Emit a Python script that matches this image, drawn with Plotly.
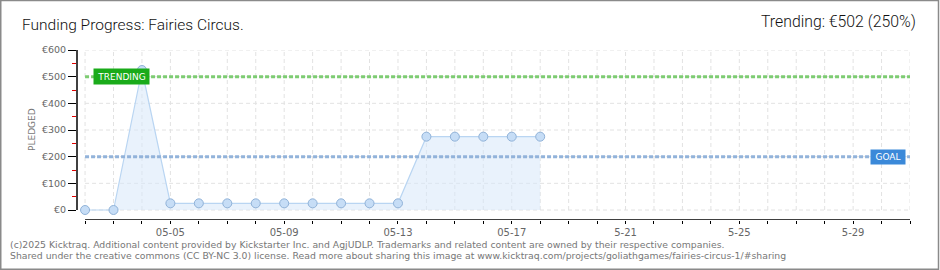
import plotly.graph_objects as go
import pandas as pd

# ---- data ----
dates = pd.date_range("2025-05-02", "2025-05-18", freq="D")
pledged = [0, 0, 525, 25, 25, 25, 25, 25, 25, 25, 25, 25, 275, 275, 275, 275, 275]
axis_days = pd.date_range("2025-05-02", "2025-05-31", freq="D")
label_days = {"2025-05-05": "05-05", "2025-05-09": "05-09", "2025-05-13": "05-13",
              "2025-05-17": "05-17", "2025-05-21": "5-21", "2025-05-25": "5-25",
              "2025-05-29": "5-29"}
y_ticks = [0, 100, 200, 300, 400, 500, 600]
y_ticktext = ["€0", "€100", "€200", "€300", "€400", "€500", "€600"]
goal = 200
trending = 500
title_left = "Funding Progress: Fairies Circus."
title_right = "Trending: €502 (250%)"
footer1 = "(c)2025 Kicktraq. Additional content provided by Kickstarter Inc. and AgjUDLP. Trademarks and related content are owned by their respective companies."
footer2 = "Shared under the creative commons (CC BY-NC 3.0) license. Read more about sharing this image at www.kicktraq.com/projects/goliathgames/fairies-circus-1/#sharing"

W, H = 940, 270
ML, MR, MT, MB = 77, 30, 50, 50
PW = W - ML - MR
PH = H - MT - MB

x0 = axis_days[0] - pd.Timedelta(hours=6.8)
x1 = axis_days[-1]


def px_x(p):
    return (p - ML) / PW


def px_y(p):
    return (H - MB - p) / PH


fig = go.Figure()

shapes = []
grid_col = "#e2e2e2"
for d in axis_days:
    shapes.append(dict(type="line", xref="x", yref="y", x0=d, x1=d, y0=0, y1=600,
                       line=dict(color=grid_col, width=1, dash="4px,3px"), layer="below"))
for v in y_ticks:
    shapes.append(dict(type="line", xref="x", yref="y", x0=axis_days[0], x1=axis_days[-1],
                       y0=v, y1=v, line=dict(color=grid_col, width=1, dash="4px,3px"), layer="below"))
# target lines
shapes.append(dict(type="line", xref="x", yref="y", x0=axis_days[0], x1=axis_days[-1],
                   y0=trending, y1=trending, line=dict(color="#7dcc72", width=3, dash="4px,2px")))
shapes.append(dict(type="line", xref="x", yref="y", x0=axis_days[0], x1=axis_days[-1],
                   y0=goal, y1=goal, line=dict(color="#92b3da", width=3, dash="4px,2px")))
# y axis line
shapes.append(dict(type="line", xref="paper", yref="y", x0=0, x1=0, y0=0, y1=600,
                   line=dict(color="#000", width=1.5)))
# x axis line
shapes.append(dict(type="line", xref="x", yref="y", x0=axis_days[0], x1=axis_days[-1],
                   y0=-37.5, y1=-37.5, line=dict(color="#000", width=1.5)))
# outer border
shapes.append(dict(type="rect", xref="paper", yref="paper",
                   x0=px_x(0.75), x1=px_x(938.5), y0=px_y(269.2), y1=px_y(0.6),
                   line=dict(color="#8a8a8a", width=1.5)))

fig.add_trace(go.Scatter(
    x=dates, y=pledged, mode="lines+markers",
    line=dict(color="#b9d5f2", width=1.2),
    fill="tozeroy", fillcolor="rgba(215,232,250,0.55)",
    marker=dict(size=9, color="#c6ddf6", line=dict(color="#90b2d8", width=1)),
    hoverinfo="skip", showlegend=False, cliponaxis=False,
))

title_font_l = dict(family="Roboto, Liberation Sans Narrow", size=15.5, color="#111", weight=300)
title_font_r = dict(family="Roboto, Liberation Sans Narrow", size=15.8, color="#111", weight=300)
small = dict(family="DejaVu Sans", size=9.3, color="#777")

annotations = [
    dict(text=title_left, xref="paper", yref="paper", x=px_x(20), y=px_y(25),
         xanchor="left", yanchor="middle", showarrow=False, font=title_font_l),
    dict(text=title_right, xref="paper", yref="paper", x=px_x(918), y=px_y(22),
         xanchor="right", yanchor="middle", showarrow=False, font=title_font_r),
    dict(text="PLEDGED", xref="paper", yref="paper", x=px_x(32), y=px_y(130),
         textangle=-90, showarrow=False, xanchor="center", yanchor="middle",
         font=dict(family="DejaVu Sans", size=9, color="#777")),
    dict(text="TRENDING", xref="paper", yref="y", x=px_x(121), y=trending,
         xanchor="center", yanchor="middle", width=51, height=11,
         showarrow=False, bgcolor="#1aab1a", borderpad=2,
         font=dict(family="DejaVu Sans", size=9, color="#fff")),
    dict(text="GOAL", xref="paper", yref="y", x=px_x(888), y=goal,
         xanchor="center", yanchor="middle", width=30, height=10,
         showarrow=False, bgcolor="#3b89d9", borderpad=2,
         font=dict(family="DejaVu Sans", size=9, color="#fff")),
    dict(text=footer1, xref="paper", yref="paper", x=px_x(8), y=px_y(244),
         xanchor="left", yanchor="middle", showarrow=False, font=small),
    dict(text=footer2, xref="paper", yref="paper", x=px_x(8), y=px_y(255.5),
         xanchor="left", yanchor="middle", showarrow=False, font=small),
]

fig.update_layout(
    width=W, height=H,
    margin=dict(l=ML, r=MR, t=MT, b=MB),
    paper_bgcolor="#fff", plot_bgcolor="#fff",
    shapes=shapes, annotations=annotations, showlegend=False,
    xaxis=dict(range=[x0, x1], showgrid=False, zeroline=False, showline=False,
               tickvals=list(axis_days),
               ticktext=[label_days.get(d.strftime("%Y-%m-%d"), "") for d in axis_days],
               ticks="outside", ticklen=3, tickcolor="#000", tickwidth=1,
               ticklabelstandoff=0,
               tickfont=dict(family="DejaVu Sans", size=10, color="#666")),
    yaxis=dict(range=[-37.5, 600], showgrid=False, zeroline=False, showline=False,
               tickvals=y_ticks, ticktext=y_ticktext,
               ticks="outside", ticklen=8, tickcolor="#000", tickwidth=1,
               tickfont=dict(family="DejaVu Sans", size=9.5, color="#666"),
               minor=dict(tickvals=[50, 150, 250, 350, 450, 550], ticks="outside",
                          ticklen=4, tickcolor="#e00000", tickwidth=1)),
)

fig.write_html("out.html")
